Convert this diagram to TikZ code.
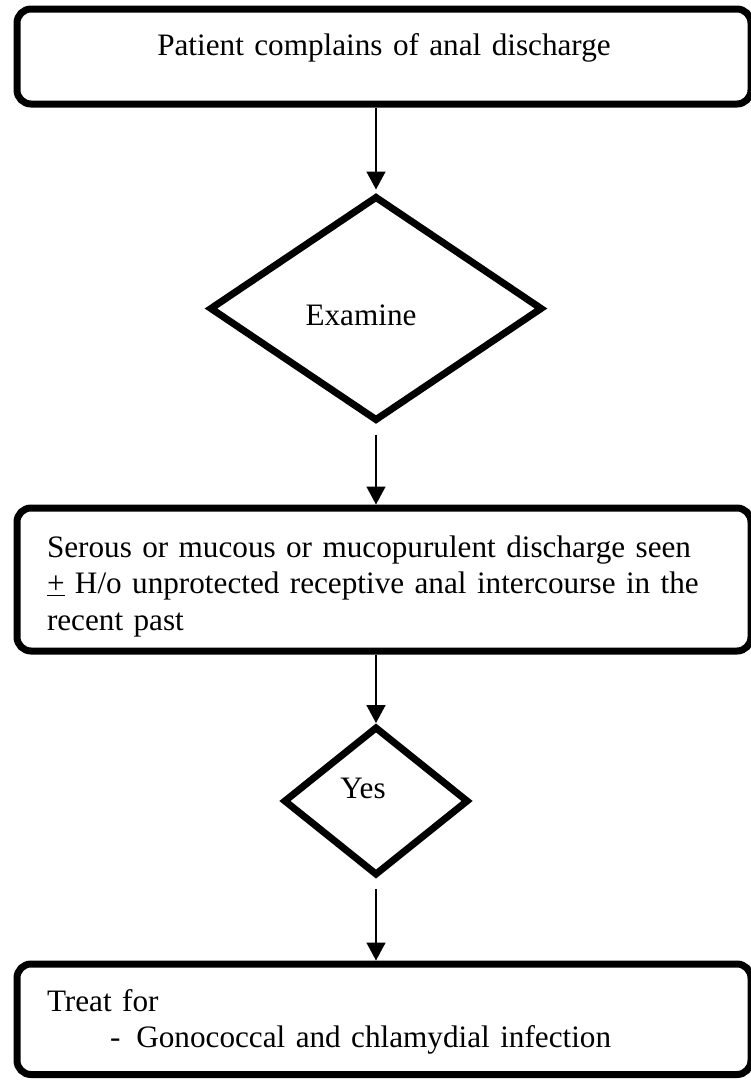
\documentclass[tikz,border=0pt]{standalone}
\usepackage{fontspec}
\setmainfont{Liberation Serif}
\usetikzlibrary{arrows.meta,shapes.geometric}
\tikzset{
  obj/.style={draw=black,line width=7pt,rounded corners=14pt,fill=white,
    inner xsep=0pt,inner ysep=0pt,minimum width=734pt},
  ar/.style={-{Triangle[length=18pt,width=19pt]},line width=1.6pt},
}
\newcommand{\bigtxt}{\fontsize{31.2}{36.5}\selectfont}

\begin{document}
\begin{tikzpicture}[x=1pt,y=-1pt,
  every node/.style={font=\bigtxt},
  dec/.style={diamond,draw=black,line width=7pt,inner sep=0pt,fill=white}]
  \path[use as bounding box,fill=white] (0,0) rectangle (751,1082);
  % boxes and decisions, top to bottom
  \node[obj,text width=734pt,align=center,text height=46pt,text depth=49pt]
    (cmp) at (384,56.5) {Patient complains of anal discharge};
  \node[dec,minimum width=333pt,minimum height=225pt,text height=33pt,text depth=0pt]
    (exam) at (376,308.5) {Examine\hspace*{30pt}};
  \node[obj,inner xsep=30pt,text width=674pt,align=left,text height=49pt,text depth=94pt]
    (seen) at (384,579.5) {Serous or mucous or mucopurulent discharge seen\\
      \underline{+} H/o unprotected receptive anal intercourse in the\\ recent past};
  \node[dec,minimum width=185pt,minimum height=149pt,text height=22pt,text depth=28pt]
    (yes) at (376,801) {Yes\hspace*{26pt}};
  \node[obj,inner xsep=30pt,text width=674pt,align=left,text height=47pt,text depth=63.5pt]
    (treat) at (384,1019.25) {Treat for\\
      \hspace*{63pt}-\hspace*{16pt}Gonococcal and chlamydial infection};
  % arrows
  \draw[ar,shorten >=3pt] (exam.north |- cmp.south) -- (exam.north);
  \draw[ar,shorten <=10pt] (exam.south) -- (exam.south |- seen.north);
  \draw[ar] (yes.north |- seen.south) -- (yes.north);
  \draw[ar,shorten <=10pt] (yes.south) -- (yes.south |- treat.north);
\end{tikzpicture}
\end{document}
